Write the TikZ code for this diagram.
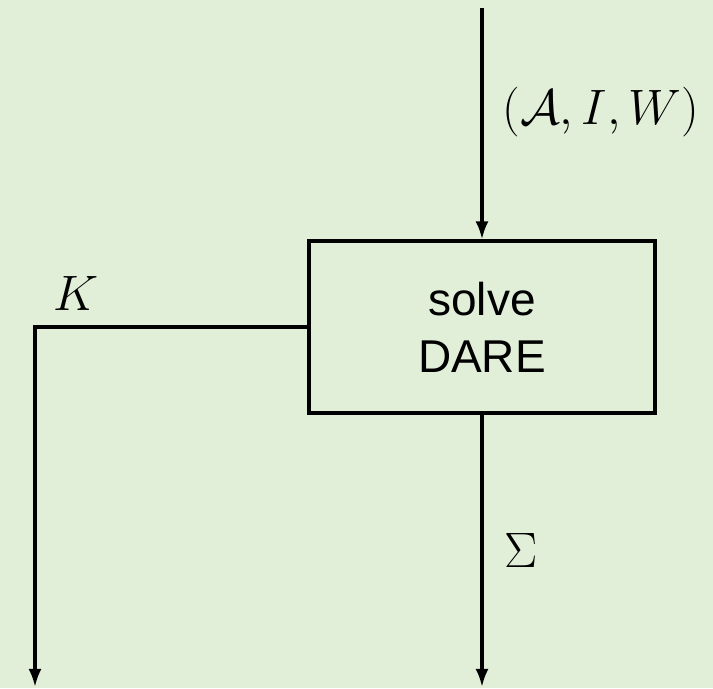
\documentclass[tikz,border=0pt]{standalone}
\usepackage{fontspec}
\setmainfont{Liberation Sans}
\usetikzlibrary{arrows.meta}
\definecolor{bggreen}{RGB}{225,239,216}

\begin{document}
\begin{tikzpicture}[x=0.5pt, y=-0.5pt, line width=1.6pt,
  >={Latex[length=9pt,width=6.5pt]},
  block/.style={draw, minimum width=173pt, minimum height=86pt, align=center,
    font=\fontsize{23}{28.5}\selectfont},
  lbl/.style={font=\fontsize{24}{28}\selectfont}]
  \fill[bggreen] (0,0) rectangle (713,688);
  \node(dare)[block] at (482,327) {solve\\DARE};
  \coordinate(src) at (482,8);
  \coordinate(kout) at (35,687);
  \coordinate(sout) at (482,687);
  \draw[->] (src) -- (dare.north);
  \draw[->] (dare.west) -| (kout);
  \draw[->] (dare.south) -- (sout);
  \node(abc)[lbl] at (601,112) {$(\mathcal{A},I,W)$};
  \node(kk)[lbl] at (76,294) {$K$};
  \node(sig)[lbl] at (521,551) {$\Sigma$};
\end{tikzpicture}
\end{document}
